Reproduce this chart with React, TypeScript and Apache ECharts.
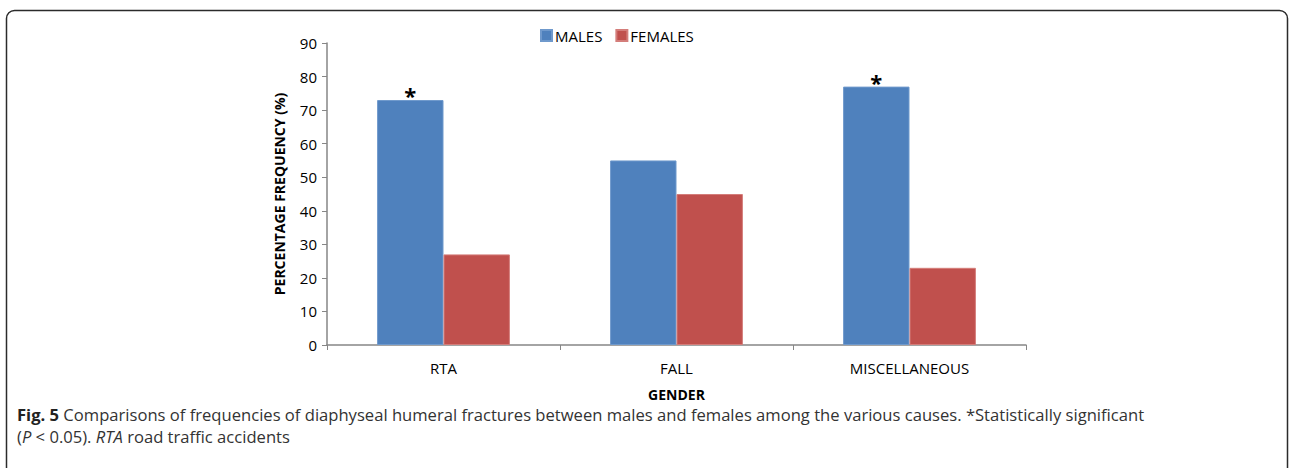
import React, { useEffect, useRef } from "react";
import * as echarts from "echarts";

const categories = ["RTA", "FALL", "MISCELLANEOUS"];
const males = [73, 55, 77];
const females = [27, 45, 23];
const significance = ["*", "", "*"];
const yTicks = { min: 0, max: 90, interval: 10 };

export default function App() {
  const ref = useRef<HTMLDivElement>(null);
  useEffect(() => {
    if (!ref.current) return;
    const chart = echarts.init(ref.current, null, { renderer: "svg" });
    const font = "'Open Sans', 'Noto Sans', sans-serif";
    chart.setOption({
      animation: false,
      backgroundColor: "#ffffff",
      textStyle: { fontFamily: font },
      legend: {
        data: ["MALES", "FEMALES"],
        top: 23,
        left: 535,
        itemWidth: 11,
        itemHeight: 11,
        itemGap: 13,
        icon: "rect",
        textStyle: { fontSize: 15, color: "#000", fontFamily: font, padding: [0, 0, 0, -2] },
      },
      grid: { left: 327, right: 264, top: 43, bottom: 123, containLabel: false },
      xAxis: {
        type: "category",
        data: categories,
        name: "GENDER",
        nameLocation: "middle",
        nameGap: 42,
        nameTextStyle: { fontWeight: "bold", fontSize: 14, color: "#000", fontFamily: font },
        axisLine: { lineStyle: { color: "#868686", width: 1.5 } },
        axisTick: { show: true, alignWithLabel: false, length: 5, lineStyle: { color: "#868686" } },
        axisLabel: { fontSize: 15, color: "#000", margin: 15, fontFamily: font },
      },
      yAxis: {
        type: "value",
        min: yTicks.min,
        max: yTicks.max,
        interval: yTicks.interval,
        name: "PERCENTAGE FREQUENCY (%)",
        nameLocation: "middle",
        nameGap: 41,
        nameRotate: 90,
        nameTextStyle: { fontWeight: "bold", fontSize: 14, color: "#000", fontFamily: font },
        axisLine: { show: true, lineStyle: { color: "#868686", width: 1.5 } },
        axisTick: { show: true, length: 5, lineStyle: { color: "#868686" } },
        axisLabel: { fontSize: 15, color: "#000", margin: 10, fontFamily: font },
        splitLine: { show: false },
      },
      series: [
        {
          name: "MALES",
          type: "bar",
          data: males,
          barGap: "0%",
          barCategoryGap: "43%",
          itemStyle: { color: "#4F81BD", borderColor: "#6F99CC", borderWidth: 1 },
          label: {
            show: true,
            position: "top",
            distance: -6,
            fontSize: 22,
            fontWeight: "bold",
            color: "#000",
            fontFamily: font,
            formatter: (p: any) => significance[p.dataIndex],
          },
        },
        {
          name: "FEMALES",
          type: "bar",
          data: females,
          itemStyle: { color: "#C0504D", borderColor: "#D47D7A", borderWidth: 1 },
        },
      ],
      graphic: [
        {
          type: "rect",
          shape: { x: 6.5, y: 10.5, width: 1281, height: 480, r: 8 },
          style: { fill: "none", stroke: "#2b2b2b", lineWidth: 1.5 },
          z: 100,
        },
        {
          type: "text",
          left: 17,
          top: 406,
          style: {
            text: "{b|Fig. 5} Comparisons of frequencies of diaphyseal humeral fractures between males and females among the various causes. *Statistically significant",
            fontSize: 16.6,
            fontFamily: font,
            fill: "#333",
            rich: {
              b: { fontWeight: "bold", fontSize: 16.6, fontFamily: font, fill: "#222" },
            },
          },
        },
        {
          type: "text",
          left: 17,
          top: 428,
          style: {
            text: "({i|P} < 0.05). {i|RTA} road traffic accidents",
            fontSize: 16.6,
            fontFamily: font,
            fill: "#333",
            rich: {
              i: { fontStyle: "italic", fontSize: 16.6, fontFamily: font, fill: "#333" },
            },
          },
        },
      ],
    });
    return () => chart.dispose();
  }, []);
  return (
    <div
      ref={ref}
      style={{ position: "fixed", left: 0, top: 0, width: 1290, height: 468 }}
    />
  );
}
